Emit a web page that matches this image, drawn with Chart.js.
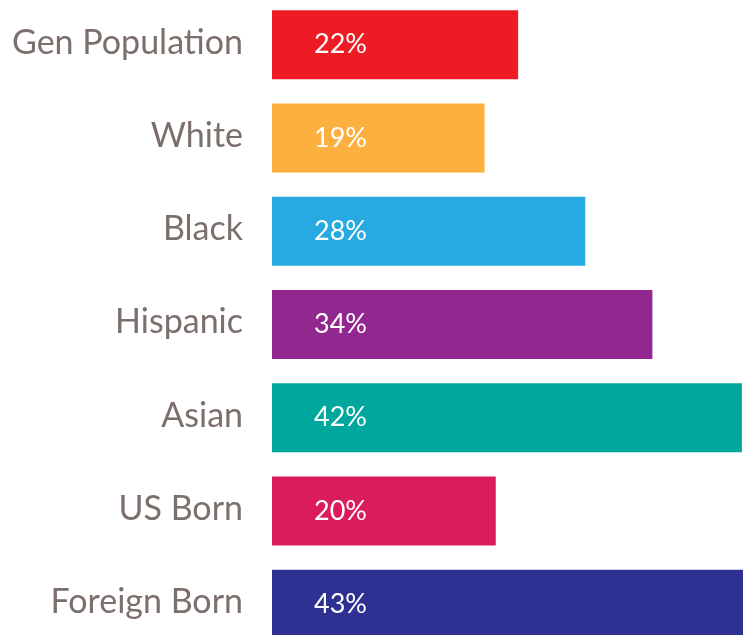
<!DOCTYPE html>
<html>
<head>
<meta charset="utf-8">
<script src="https://cdn.jsdelivr.net/npm/chart.js@4"></script>
<style>
  html, body { margin: 0; padding: 0; background: #fff; overflow: hidden; }
  #wrap { position: absolute; left: 0; top: -2px; width: 743px; height: 653px; }
</style>
</head>
<body>
<div id="wrap"><canvas id="grafico"></canvas></div>
<script>
// Dados do gráfico
const categorias = ['Gen Population', 'White', 'Black', 'Hispanic', 'Asian', 'US Born', 'Foreign Born'];
const valores = [22, 19, 28, 34, 42, 20, 43];
const rotulos = ['22%', '19%', '28%', '34%', '42%', '20%', '43%'];
const cores = ['#ED1C24', '#FBB040', '#27AAE1', '#92278F', '#00A79D', '#DA1C5C', '#2E3192'];

const fonte = 'Lato, "Open Sans", sans-serif';

// Plugin para escrever as categorias e os percentuais
const rotulosBarras = {
    id: 'rotulosBarras',
    afterDatasetsDraw(chart) {
        const ctx = chart.ctx;
        const x0 = chart.scales.x.getPixelForValue(0);
        ctx.save();
        ctx.textBaseline = 'middle';
        chart.getDatasetMeta(0).data.forEach((barra, i) => {
            // nome da categoria à esquerda
            ctx.fillStyle = '#7B6F6B';
            ctx.font = '34px ' + fonte;
            ctx.textAlign = 'right';
            ctx.fillText(categorias[i], x0 - 29, barra.y - 2);
            // percentual dentro da barra
            ctx.fillStyle = '#ffffff';
            ctx.font = '27px ' + fonte;
            ctx.textAlign = 'left';
            ctx.fillText(rotulos[i], x0 + 42, barra.y);
        });
        ctx.restore();
    }
};

const ctx = document.getElementById('grafico').getContext('2d');
new Chart(ctx, {
    type: 'bar',
    data: {
        labels: categorias,
        datasets: [{
            data: valores,
            backgroundColor: cores,
            borderWidth: 0,
            barPercentage: 0.74,
            categoryPercentage: 1
        }]
    },
    options: {
        indexAxis: 'y',
        responsive: true,
        maintainAspectRatio: false,
        animation: false,
        layout: { padding: { left: 272, right: 0, top: 0, bottom: 0 } },
        plugins: {
            legend: { display: false },
            tooltip: { enabled: false }
        },
        scales: {
            x: { display: false, min: 0, max: 42.1 },
            y: { display: false }
        }
    },
    plugins: [rotulosBarras]
});
</script>
</body>
</html>
